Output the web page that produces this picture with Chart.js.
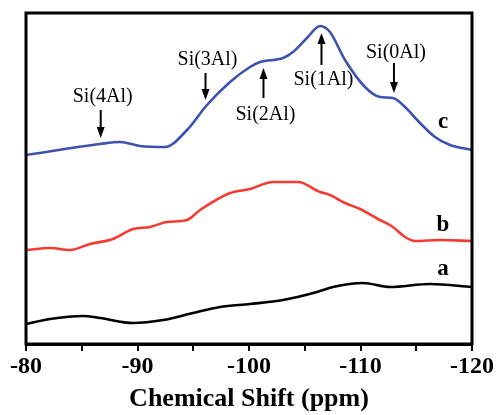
<!DOCTYPE html>
<html lang="en">
<head>
<meta charset="UTF-8">
<title>29Si NMR spectra</title>
<script src="https://cdn.jsdelivr.net/npm/chart.js"></script>
<style>
  * { margin: 0; padding: 0; box-sizing: border-box; }
  body { background: #fff; }
  #wrap { width: 501px; height: 415px; position: relative; }
</style>
</head>
<body>
<div id="wrap"><canvas id="nmr"></canvas></div>
<script>
// chemical shift (ppm) and intensity (arbitrary units) for each curve
const shiftC = [-80, -86.64, -88.43, -90.22, -92.47, -94.44, -96.23, -98.3, -100.09, -101.0, -103.05, -103.95, -105.2, -106.37, -107.26, -108.61, -110.4, -111.75, -112.91, -113.99, -115.34, -116.68, -118.03, -120];
const curveC = [189, 200, 202, 198, 197, 214, 239, 262, 277, 282, 286, 292, 306, 318, 312, 284, 257, 247, 246, 237, 221, 207, 199, 194];

const shiftB = [-80, -82.15, -83.95, -85.74, -87.8, -89.6, -91.12, -92.65, -94.44, -95.61, -98.3, -100.09, -102.15, -104.39, -106.37, -107.26, -108.61, -109.96, -111.57, -112.91, -113.99, -114.89, -117.13, -120];
const curveB = [94, 96, 94, 100, 105, 115, 117, 122, 124, 134, 151, 155, 162, 162, 152, 149, 141, 135, 125, 117, 107, 103, 104, 103];

const shiftA = [-80, -82.15, -85.11, -86.64, -89.6, -92.29, -94.98, -97.4, -100.09, -103.05, -106.1, -107.53, -110.22, -112.65, -116.23, -120];
const curveA = [20, 25, 28, 26, 21, 24, 31, 37, 40, 44, 52, 57, 61, 57, 60, 57];

// peak assignments: label, arrow position, text height, arrow tail / head
const peakNames = ["Si(4Al)", "Si(3Al)", "Si(2Al)", "Si(1Al)", "Si(0Al)"];
const peakShift = [-86.7, -96.1, -101.3, -106.5, -113.0];
const peakTextY = [247, 284, 229, 264, 291];
const arrowFrom = [234, 271, 246, 279, 281];
const arrowTo = [206, 244, 276, 311, 251];

// curve letters
const curveNames = ["a", "b", "c"];
const curveNameX = [-117.4, -117.4, -117.4];
const curveNameY = [75, 119, 222];

function pts(xs, ys) {
    return xs.map((x, i) => ({ x: x, y: ys[i] }));
}

const frame = {
    id: 'frame',
    afterDatasetsDraw(chart) {
        const { ctx, chartArea: a, scales } = chart;
        const x = scales.x, y = scales.y;
        ctx.save();
        ctx.strokeStyle = '#000';
        ctx.lineWidth = 3;
        ctx.strokeRect(a.left, a.top, a.right - a.left, a.bottom - a.top);

        // peak labels and arrows
        ctx.fillStyle = '#000';
        ctx.font = '20px "Liberation Serif", "Times New Roman", serif';
        ctx.textAlign = 'center';
        ctx.textBaseline = 'middle';
        peakNames.forEach((name, i) => {
            const px = x.getPixelForValue(peakShift[i]);
            ctx.fillText(name, px + 2, y.getPixelForValue(peakTextY[i]));
            const y0 = y.getPixelForValue(arrowFrom[i]);
            const y1 = y.getPixelForValue(arrowTo[i]);
            const dir = y1 > y0 ? 1 : -1;
            ctx.lineWidth = 2;
            ctx.beginPath();
            ctx.moveTo(px, y0);
            ctx.lineTo(px, y1 - dir * 9);
            ctx.stroke();
            ctx.beginPath();
            ctx.moveTo(px, y1);
            ctx.lineTo(px - 4, y1 - dir * 11);
            ctx.lineTo(px + 4, y1 - dir * 11);
            ctx.closePath();
            ctx.fill();
        });

        ctx.font = 'bold 23px "Liberation Serif", "Times New Roman", serif';
        curveNames.forEach((n, i) => {
            ctx.fillText(n, x.getPixelForValue(curveNameX[i]), y.getPixelForValue(curveNameY[i]));
        });
        ctx.restore();
    }
};

new Chart(document.getElementById('nmr'), {
    type: 'line',
    data: {
        datasets: [
            { label: 'a', data: pts(shiftA, curveA), borderColor: '#000000' },
            { label: 'b', data: pts(shiftB, curveB), borderColor: '#f53a32' },
            { label: 'c', data: pts(shiftC, curveC), borderColor: '#3d52ad' }
        ]
    },
    options: {
        responsive: true,
        maintainAspectRatio: false,
        animation: false,
        layout: { padding: { left: 26, right: 29, top: 13, bottom: 0 } },
        elements: {
            point: { radius: 0 },
            line: { borderWidth: 2.6, tension: 0.4, cubicInterpolationMode: 'monotone', fill: false }
        },
        plugins: { legend: { display: false }, tooltip: { enabled: false } },
        scales: {
            x: {
                type: 'linear',
                min: -120,
                max: -80,
                reverse: true,
                afterFit(scale) { scale.height = 71; },
                border: { display: true, color: '#000', width: 3 },
                grid: { display: true, drawOnChartArea: false, drawTicks: true, tickLength: 7, color: '#000', lineWidth: 2 },
                ticks: {
                    stepSize: 5,
                    autoSkip: false,
                    maxRotation: 0,
                    padding: 1,
                    color: '#000',
                    font: { family: '"Liberation Serif", "Times New Roman", serif', size: 24, weight: 'bold' },
                    callback: v => (v % 10 === 0 ? v : '')
                },
                title: {
                    display: true,
                    text: 'Chemical Shift (ppm)',
                    color: '#000',
                    padding: { top: 0, bottom: 3 },
                    font: { family: '"Liberation Serif", "Times New Roman", serif', size: 26, weight: 'bold', lineHeight: 1 }
                }
            },
            y: { display: false, min: 0, max: 331 }
        }
    },
    plugins: [frame]
});
</script>
</body>
</html>
